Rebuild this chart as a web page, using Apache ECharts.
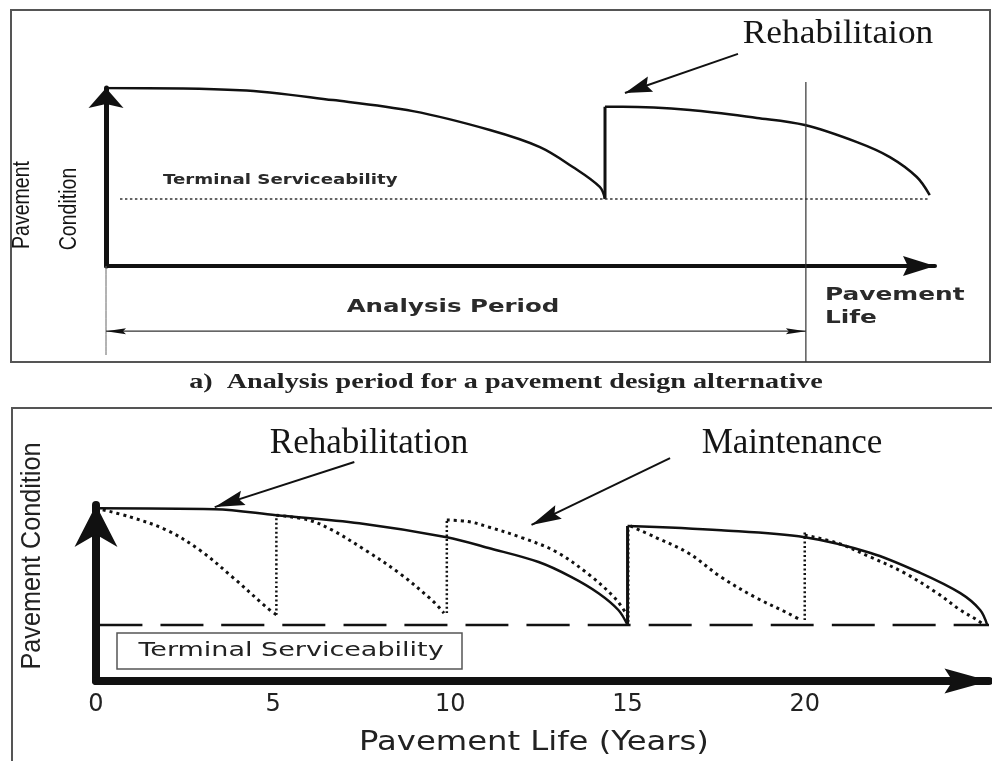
<!DOCTYPE html>
<html>
<head>
<meta charset="utf-8">
<script src="https://cdn.jsdelivr.net/npm/echarts@6/dist/echarts.min.js"></script>
<style>
  html, body { margin: 0; padding: 0; background: #fff; }
  #chart { width: 992px; height: 761px; }
</style>
</head>
<body>
<div id="chart"></div>
<script>
// ---- panel a) analysis period (x: life units, y: condition units) ----
var topCurve1 = [[0, 5.0], [3.83, 4.94], [6.49, 4.66], [8.77, 4.35], [10.97, 3.82], [12.4, 3.34], [13.34, 2.78], [14.11, 2.22], [14.26, 1.88]];
var topCurve2 = [[14.26, 4.47], [14.77, 4.47], [16.69, 4.38], [18.6, 4.16], [19.97, 3.96], [21.46, 3.48], [22.4, 3.06], [23.17, 2.5], [23.54, 1.99]];
var topJump = [[14.26, 1.88], [14.26, 4.47]];
var topTerminalLevel = 1.88;
var topTerminalSpan = [0.4, 23.54];
var analysisEnd = 20;
var analysisArrowY = -1.83;
var topRehabArrow = [[18.06, 5.96], [14.83, 4.86]];

// ---- panel b) rehabilitation vs maintenance (x: years) ----
var tickLabels = ["0", "5", "10", "15", "20"];
var rehabCycle1 = [[0, 4.94], [3.35, 4.91], [5.09, 4.74], [7.43, 4.51], [9.9, 4.11], [11.08, 3.8], [12.49, 3.4], [13.42, 2.97], [14.18, 2.51], [14.74, 2.03], [15.0, 1.6]];
var rehabCycle2 = [[15.0, 4.43], [17.64, 4.31], [20.0, 4.11], [21.86, 3.66], [23.26, 3.09], [24.39, 2.51], [24.95, 2.03], [25.15, 1.6]];
var rehabJump = [[15.0, 1.6], [15.0, 4.43]];
var maintSeg1 = [[0, 4.94], [0.96, 4.69], [2.0, 4.31], [2.93, 3.74], [3.85, 2.97], [4.81, 2.11], [5.09, 1.89]];
var maintSeg2 = [[5.09, 4.74], [6.0, 4.6], [6.67, 4.31], [7.6, 3.74], [8.55, 3.09], [9.48, 2.31], [9.82, 1.94]];
var maintSeg3 = [[9.9, 4.6], [10.5, 4.56], [11.08, 4.4], [12.01, 4.1], [12.97, 3.7], [13.9, 3.05], [14.66, 2.35], [15.02, 1.83]];
var maintSeg4 = [[15.08, 4.43], [15.78, 4.11], [16.71, 3.66], [17.64, 2.97], [18.59, 2.4], [19.52, 1.94], [19.89, 1.74]];
var maintSeg5 = [[20.0, 4.17], [20.93, 3.94], [21.86, 3.54], [22.81, 3.09], [23.74, 2.51], [24.39, 2.03], [24.87, 1.74], [25.06, 1.6]];
var maintJumpX = [5.09, 9.9, 15.02, 20.0];
var maintJumpLow = [1.89, 1.94, 1.69, 1.74];
var maintJumpHigh = [4.74, 4.6, 4.43, 4.26];
var terminalLevel = 1.6;
var terminalSpan = [0.1, 25.2];
var rehabArrow = [[7.29, 6.26], [3.35, 4.97]];
var maintArrow = [[16.2, 6.37], [12.29, 4.46]];

var INK = "#111";

// arrow head path for an axis end, drawn in a w x h box (axis symbols keep aspect)
function arrowHead(w, h, notch) {
  return "path://M" + (w / 2) + ",0 L" + w + "," + h + " L" + (w / 2) + "," + (h * notch) + " L0," + h + " Z";
}

function line(grid, data, width, type, color, clip) {
  return {
    type: "line", xAxisIndex: grid, yAxisIndex: grid, data: data,
    smooth: 0.35, showSymbol: false, symbol: "none",
    clip: clip === undefined ? true : clip, silent: true,
    lineStyle: { color: color || INK, width: width, type: type || "solid" }
  };
}
function flat(grid, span, level, width, type, color) {
  return line(grid, [[span[0], level], [span[1], level]], width, type, color);
}

var series = [
  line(0, topCurve1, 2.5),
  line(0, topJump, 3),
  line(0, topCurve2, 2.5),
  flat(0, topTerminalSpan, topTerminalLevel, 1.5, [2.5, 2.5], "#333"),
  line(0, [[analysisEnd, 5.17], [analysisEnd, -2.7]], 1.2, "solid", "#333", false),
  line(0, [[0, 0], [0, -2.5]], 1, "solid", "#666", false),
  line(0, [[0, analysisArrowY], [analysisEnd, analysisArrowY]], 1.2, "solid", "#333", false),
  line(0, topRehabArrow, 2, "solid", INK, false),

  line(1, rehabCycle1, 2.5),
  line(1, rehabJump, 3),
  line(1, rehabCycle2, 2.5),
  flat(1, terminalSpan, terminalLevel, 2.5, [43, 18])
];
[maintSeg1, maintSeg2, maintSeg3, maintSeg4, maintSeg5].forEach(function (seg) {
  series.push(line(1, seg, 3, [3, 4]));
});
maintJumpX.forEach(function (x, i) {
  series.push(line(1, [[x, maintJumpLow[i]], [x, maintJumpHigh[i]]], 2.5, [2, 2.5]));
});
series.push(line(1, rehabArrow, 2, "solid", INK, false));
series.push(line(1, maintArrow, 2, "solid", INK, false));

function hiddenAxis(extra) {
  var a = {
    type: "value",
    axisTick: { show: false },
    axisLabel: { show: false },
    splitLine: { show: false }
  };
  for (var k in extra) a[k] = extra[k];
  return a;
}

var option = {
  animation: false,
  backgroundColor: "#fff",
  grid: [
    { left: 106, right: 57, top: 88, bottom: 495 },
    { left: 96, right: 0, top: 505, bottom: 80 }
  ],
  xAxis: [
    hiddenAxis({
      gridIndex: 0, min: 0, max: 23.69,
      axisLine: { symbol: ["none", arrowHead(20, 32, 0.85)], symbolSize: [20, 32], symbolOffset: [0, -16], lineStyle: { color: INK, width: 4 } }
    }),
    hiddenAxis({
      gridIndex: 1, min: 0, max: 25.2, interval: 5,
      axisLine: { symbol: ["none", arrowHead(25, 45, 0.82)], symbolSize: [25, 45], symbolOffset: [0, -22], lineStyle: { color: INK, width: 8 } },
      axisLabel: {
        show: true, margin: 12, fontSize: 24, fontFamily: "DejaVu Sans", color: "#222",
        showMinLabel: true,
        formatter: function (v) {
          var s = String(v);
          return tickLabels.indexOf(s) >= 0 ? s : "";
        }
      }
    })
  ],
  yAxis: [
    hiddenAxis({
      gridIndex: 0, min: 0, max: 5,
      axisLine: { symbol: ["none", arrowHead(35, 20, 0.8)], symbolSize: [35, 20], symbolOffset: [0, -10], lineStyle: { color: INK, width: 5 } }
    }),
    hiddenAxis({
      gridIndex: 1, min: 0, max: 5.03,
      axisLine: { symbol: ["none", arrowHead(43, 42, 0.7)], symbolSize: [43, 42], symbolOffset: [0, -21], lineStyle: { color: INK, width: 8 } }
    })
  ],
  series: series
};

var chart = echarts.init(document.getElementById("chart"));
chart.setOption(option);

// arrow heads placed with the chart's own scales
function head(grid, from, to, len, wid) {
  var a = chart.convertToPixel({ gridIndex: grid }, from);
  var b = chart.convertToPixel({ gridIndex: grid }, to);
  var dx = b[0] - a[0], dy = b[1] - a[1];
  var d = Math.sqrt(dx * dx + dy * dy);
  var ux = dx / d, uy = dy / d;
  var bx = b[0] - ux * len, by = b[1] - uy * len;
  return {
    type: "polygon", z: 20,
    shape: { points: [
      [b[0], b[1]],
      [bx - uy * wid / 2, by + ux * wid / 2],
      [b[0] - ux * len * 0.85, b[1] - uy * len * 0.85],
      [bx + uy * wid / 2, by - ux * wid / 2]
    ] },
    style: { fill: INK }
  };
}

function txt(text, x, y, size, family, o) {
  o = o || {};
  return {
    type: "text", x: x, y: y, z: 30,
    rotation: o.rotation || 0, scaleX: o.scaleX || 1,
    style: {
      text: text, fontSize: size, fontFamily: family, fontWeight: o.weight || "normal",
      fill: o.color || "#151515",
      align: o.align || "center", textAlign: o.align || "center",
      verticalAlign: "middle", textVerticalAlign: "middle"
    }
  };
}

var SERIF = '"Liberation Serif", "Times New Roman", serif';
var SANS = '"DejaVu Sans", sans-serif';
var NARROW = '"Liberation Sans", Arial, sans-serif';

var elements = [
  // panel frames
  { type: "rect", z: 1, shape: { x: 11, y: 10, width: 979, height: 352 }, style: { fill: "none", stroke: "#555", lineWidth: 2 } },
  { type: "rect", z: 1, shape: { x: 12, y: 408, width: 990, height: 400 }, style: { fill: "none", stroke: "#555", lineWidth: 2 } },
  { type: "rect", z: 5, shape: { x: 117, y: 633, width: 345, height: 36 }, style: { fill: "#fff", stroke: "#555", lineWidth: 1.5 } },

  head(0, topRehabArrow[0], topRehabArrow[1], 27, 16),
  head(0, [analysisEnd, analysisArrowY], [0, analysisArrowY], 20, 6),
  head(0, [0, analysisArrowY], [analysisEnd, analysisArrowY], 20, 6),
  head(1, rehabArrow[0], rehabArrow[1], 30, 15),
  head(1, maintArrow[0], maintArrow[1], 30, 15),

  // panel a) texts
  txt("Rehabilitaion", 838, 34, 34, SERIF, { scaleX: 1.04 }),
  txt("Terminal Serviceability", 163, 180, 14, SANS, { weight: "bold", align: "left", scaleX: 1.3, color: "#2a2a2a" }),
  txt("Analysis Period", 453, 307, 18, SANS, { weight: "bold", scaleX: 1.36, color: "#2a2a2a" }),
  txt("Pavement", 825, 296, 17, SANS, { weight: "bold", align: "left", scaleX: 1.46, color: "#2a2a2a" }),
  txt("Life", 825, 319, 17, SANS, { weight: "bold", align: "left", scaleX: 1.46, color: "#2a2a2a" }),
  txt("Pavement", 23, 205, 23, NARROW, { rotation: Math.PI / 2, scaleX: 0.85 }),
  txt("Condition", 70, 209, 23, NARROW, { rotation: Math.PI / 2, scaleX: 0.85 }),
  txt("a)  Analysis period for a pavement design alternative", 506, 382, 22, SERIF, { weight: "bold", scaleX: 1.28, color: "#222" }),

  // panel b) texts
  txt("Rehabilitation", 369, 444, 35, SERIF),
  txt("Maintenance", 792, 444, 35, SERIF),
  txt("Terminal Serviceability", 291, 651, 20, SANS, { scaleX: 1.35, color: "#222" }),
  txt("Pavement Life (Years)", 534, 743, 26, SANS, { scaleX: 1.24, color: "#222" }),
  txt("Pavement Condition", 32, 556, 28, NARROW, { rotation: Math.PI / 2, scaleX: 0.9, color: "#222" })
];

chart.setOption({ graphic: { elements: elements } });
</script>
</body>
</html>
